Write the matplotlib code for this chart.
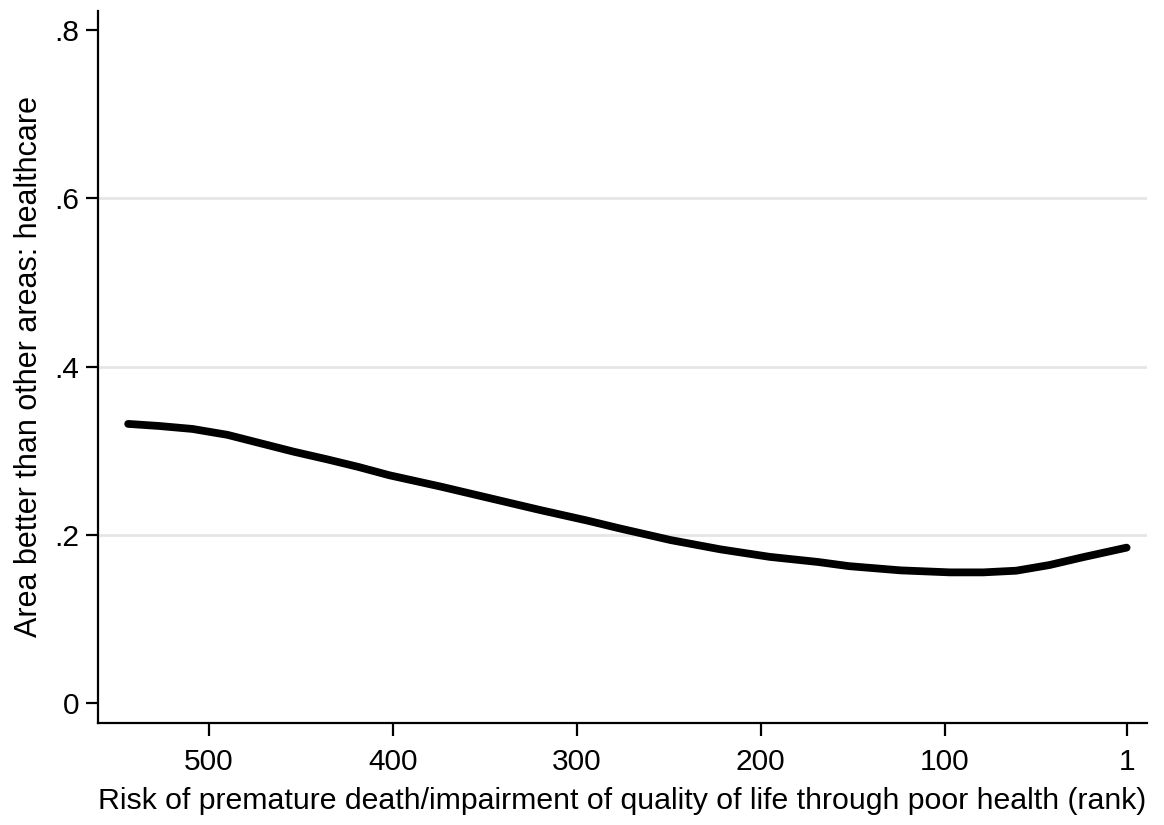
import matplotlib
matplotlib.use("Agg")
import matplotlib.pyplot as plt

# Fitted curve: share of respondents rating their area's healthcare better than elsewhere,
# by health deprivation rank (rank 1 = highest risk)
rank = [544, 527, 509, 490, 472, 454, 436, 419, 402, 374, 347, 320, 294,
        277, 249, 222, 195, 169, 152, 124, 97, 79, 61, 43, 25, 1]
share = [0.332, 0.3295, 0.326, 0.319, 0.309, 0.299, 0.290, 0.281, 0.271, 0.2575,
         0.2436, 0.2297, 0.217, 0.208, 0.194, 0.183, 0.174, 0.168, 0.163, 0.158,
         0.1556, 0.1556, 0.1576, 0.1643, 0.1735, 0.185]

x_ticks = [500, 400, 300, 200, 100, 1]
y_ticks = [0, 0.2, 0.4, 0.6, 0.8]
y_tick_labels = ["0", ".2", ".4", ".6", ".8"]
grid_levels = [0.2, 0.4, 0.6]

plt.rcParams["font.family"] = ["Liberation Sans", "DejaVu Sans"]

fig = plt.figure(figsize=(11.64, 8.25), dpi=100)
ax = fig.add_axes([0.0845, 0.124, 0.9006, 0.8627])

for g in grid_levels:
    ax.axhline(g, color="#e6e6e6", lw=2, zorder=0)

ax.plot(rank, share, color="black", lw=5.6, solid_capstyle="round",
        solid_joinstyle="round", zorder=3)

ax.set_xlim(560.2, -9.9)
ax.set_ylim(-0.023, 0.8226)
ax.set_xticks(x_ticks)
ax.set_yticks(y_ticks)
ax.set_yticklabels(y_tick_labels)

for side in ("top", "right"):
    ax.spines[side].set_visible(False)
for side in ("left", "bottom"):
    ax.spines[side].set_linewidth(1.6)

ax.tick_params(axis="both", length=9, width=1.6, labelsize=21.5)
ax.tick_params(axis="x", pad=9)
ax.tick_params(axis="y", pad=5)

ax.set_xlabel("Risk of premature death/impairment of quality of life through poor health (rank)",
              fontsize=21.8, labelpad=8)
ax.set_ylabel("Area better than other areas: healthcare", fontsize=22, labelpad=7)

fig.savefig("out.png", dpi=100, facecolor="white")
